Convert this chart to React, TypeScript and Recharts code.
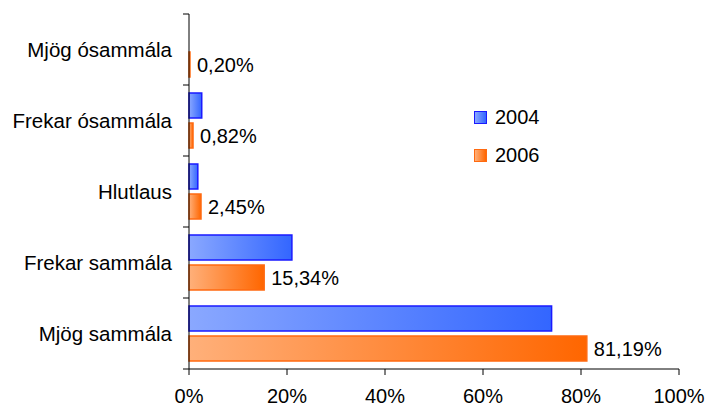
import React from "react";
import { BarChart, Bar, XAxis, YAxis, LabelList } from "recharts";

const categories = ["Mjög ósammála", "Frekar ósammála", "Hlutlaus", "Frekar sammála", "Mjög sammála"];
const values2004 = [0, 2.6, 1.8, 21.0, 74.0];
const values2006 = [0.2, 0.82, 2.45, 15.34, 81.19];
const seriesNames = ["2004", "2006"];
const xTicks = [0, 20, 40, 60, 80, 100];

const data = categories.map((name, i) => ({
  name,
  y2004: values2004[i],
  y2006: values2006[i],
}));

const W = 707;
const H = 409;
const MARGIN = { top: 14, right: 28, bottom: 0, left: 0 };
const Y_WIDTH = 189;
const X_HEIGHT = 40;
const AXIS_X = MARGIN.left + Y_WIDTH;
const BAND = (H - MARGIN.top - X_HEIGHT) / categories.length;
const FONT = "'Liberation Sans', Arial, sans-serif";

// category label centred, tick marks on the band edges
const CatTick = (props: any) => {
  const { y, payload, index } = props;
  return (
    <g>
      <text
        x={AXIS_X - 17}
        y={y}
        textAnchor="end"
        dominantBaseline="central"
        fontSize={20.5}
        fontFamily={FONT}
        fill="#000"
      >
        {payload.value}
      </text>
      <line x1={AXIS_X - 6} x2={AXIS_X} y1={y - BAND / 2} y2={y - BAND / 2} stroke="#000" />
      {index === categories.length - 1 && (
        <line x1={AXIS_X - 6} x2={AXIS_X} y1={y + BAND / 2} y2={y + BAND / 2} stroke="#000" />
      )}
    </g>
  );
};

const fmtPct = (v: any) => `${Number(v).toFixed(2).replace(".", ",")}%`;

const legendStyle = [
  { fill: "linear-gradient(to right, #8aa8ff, #3366ff)", border: "#1a1aff" },
  { fill: "linear-gradient(to right, #ffb07a, #ff6600)", border: "#ff6a10" },
];

const LegendBox = () => (
  <div
    style={{
      position: "absolute",
      left: 474,
      top: 98,
      fontFamily: FONT,
      fontSize: 20,
      color: "#000",
    }}
  >
    {seriesNames.map((label, i) => (
      <div key={label} style={{ display: "flex", alignItems: "center", height: 38 }}>
        <span
          style={{
            display: "inline-block",
            width: 11,
            height: 11,
            background: legendStyle[i].fill,
            border: `1.5px solid ${legendStyle[i].border}`,
            marginRight: 8,
          }}
        />
        <span>{label}</span>
      </div>
    ))}
  </div>
);

export default function App() {
  return (
    <div style={{ position: "absolute", left: 0, top: 0, width: W, height: H, background: "#fff" }}>
      <BarChart
        width={W}
        height={H}
        data={data}
        layout="vertical"
        margin={MARGIN}
        barCategoryGap={8}
        barGap={5}
      >
        <defs>
          <linearGradient id="g2004" x1="0" y1="0" x2="1" y2="0">
            <stop offset="0%" stopColor="#8aa8ff" />
            <stop offset="100%" stopColor="#3366ff" />
          </linearGradient>
          <linearGradient id="g2006" x1="0" y1="0" x2="1" y2="0">
            <stop offset="0%" stopColor="#ffb07a" />
            <stop offset="100%" stopColor="#ff6600" />
          </linearGradient>
        </defs>
        <XAxis
          type="number"
          domain={[0, 100]}
          ticks={xTicks}
          interval={0}
          height={X_HEIGHT}
          tickFormatter={(v) => `${v}%`}
          tickSize={6}
          tickMargin={14}
          axisLine={{ stroke: "#000" }}
          tickLine={{ stroke: "#000" }}
          tick={{ fill: "#000", fontSize: 20, fontFamily: FONT }}
        />
        <YAxis
          type="category"
          dataKey="name"
          width={Y_WIDTH}
          axisLine={{ stroke: "#000" }}
          tickLine={false}
          interval={0}
          tick={<CatTick />}
        />
        <Bar
          dataKey="y2004"
          name={seriesNames[0]}
          fill="url(#g2004)"
          stroke="#1a1aff"
          strokeWidth={1.5}
          isAnimationActive={false}
        />
        <Bar
          dataKey="y2006"
          name={seriesNames[1]}
          fill="url(#g2006)"
          stroke="#ff6a10"
          strokeWidth={1.5}
          isAnimationActive={false}
        >
          <LabelList
            dataKey="y2006"
            position="right"
            offset={7}
            formatter={fmtPct}
            fill="#000"
            fontSize={20}
            fontFamily={FONT}
          />
        </Bar>
      </BarChart>
      <LegendBox />
    </div>
  );
}
